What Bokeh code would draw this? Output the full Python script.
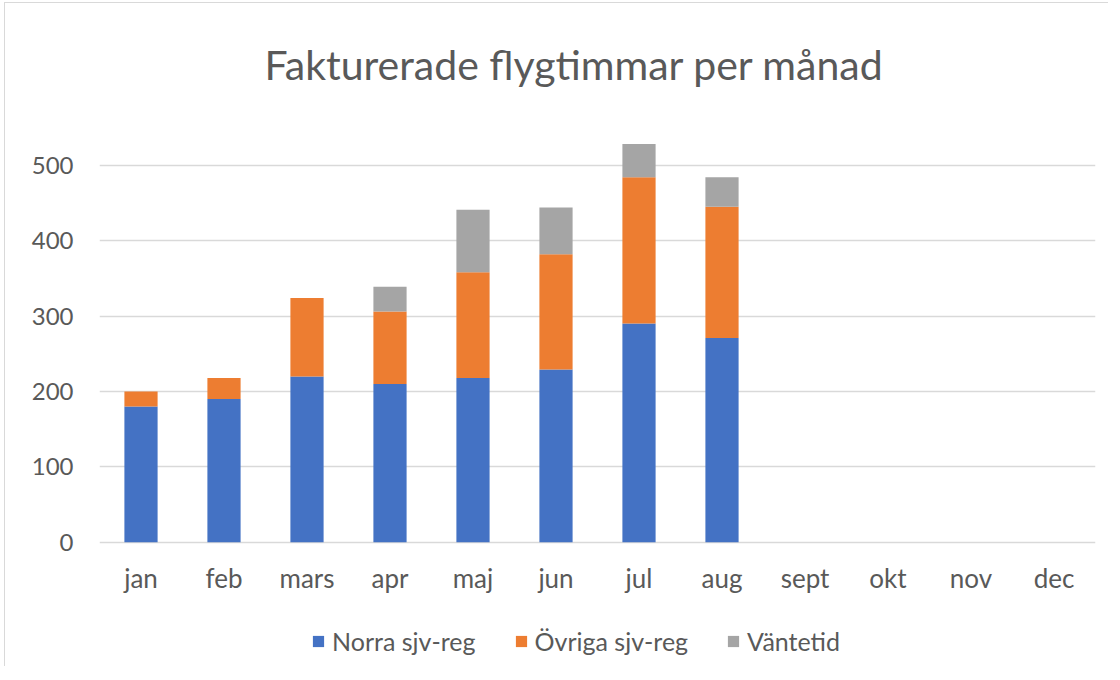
from bokeh.plotting import figure
from bokeh.models import ColumnDataSource, Legend, LegendItem, FixedTicker, Range1d
from bokeh.core.properties import value
from bokeh.embed import file_html
from bokeh.resources import INLINE

nan = float("nan")
months = ["jan", "feb", "mars", "apr", "maj", "jun", "jul", "aug", "sept", "okt", "nov", "dec"]
norra = [180, 190, 220, 210, 218, 229, 290, 271, nan, nan, nan, nan]
ovriga = [20, 28, 104, 96, 140, 153, 194, 174, nan, nan, nan, nan]
vantetid = [0, 0, 0, 33, 83, 62, 44, 39, nan, nan, nan, nan]
series = ["Norra sjv-reg", "Övriga sjv-reg", "Väntetid"]
colors = ["#4472C4", "#ED7D31", "#A5A5A5"]
y_ticks = [0, 100, 200, 300, 400, 500]

FONT = "Lato"
TXT = "#595959"

source = ColumnDataSource(dict(month=months, a=norra, b=ovriga, c=vantetid))

# frame extends below the zero line so the month labels and legend sit inside it
p = figure(x_range=months, y_range=Range1d(-166, 558), width=1104, height=664,
           output_backend="svg", toolbar_location=None,
           min_border_left=94, min_border_right=14, min_border_top=118, min_border_bottom=0)
p.styles = {"border-top": "1px solid #d9d9d9", "border-left": "1px solid #d9d9d9",
            "margin-top": "2px", "margin-left": "4px"}

renderers = p.vbar_stack(["a", "b", "c"], x="month", width=0.4, color=colors,
                         line_color=None, source=source)

# month labels (category axis) drawn below the zero line
p.text(x=months, y=-47, text=months, text_font=value(FONT), text_font_size="26px",
       text_color=TXT, text_align="center", text_baseline="middle")

p.title.text = "Fakturerade flygtimmar per månad"
p.title.text_font = FONT
p.title.text_font_size = "41px"
p.title.text_font_style = "normal"
p.title.text_color = TXT
p.title.align = "left"
p.title.offset = 165
p.title.standoff = 66

p.outline_line_color = None
p.xgrid.grid_line_color = None
p.ygrid.grid_line_color = "#d9d9d9"
p.ygrid.grid_line_width = 1.5
p.yaxis.ticker = FixedTicker(ticks=y_ticks)
p.xaxis.visible = False

p.yaxis.axis_line_color = None
p.yaxis.major_tick_line_color = None
p.yaxis.minor_tick_line_color = None
p.yaxis.major_tick_out = 0
p.yaxis.major_tick_in = 0
p.yaxis.major_label_text_font = FONT
p.yaxis.major_label_text_color = TXT
p.yaxis.major_label_text_font_size = "24px"
p.yaxis.major_label_standoff = 26

legend = Legend(items=[LegendItem(label=s, renderers=[r]) for s, r in zip(series, renderers)],
                orientation="horizontal", location=(212, 11),
                label_text_font=FONT, label_text_font_size="25px", label_text_color=TXT,
                glyph_width=14, glyph_height=14, label_standoff=7, spacing=38,
                border_line_color=None, background_fill_alpha=0, padding=0, margin=0)
p.add_layout(legend, "center")

open("out.html", "w").write(file_html(p, INLINE))
